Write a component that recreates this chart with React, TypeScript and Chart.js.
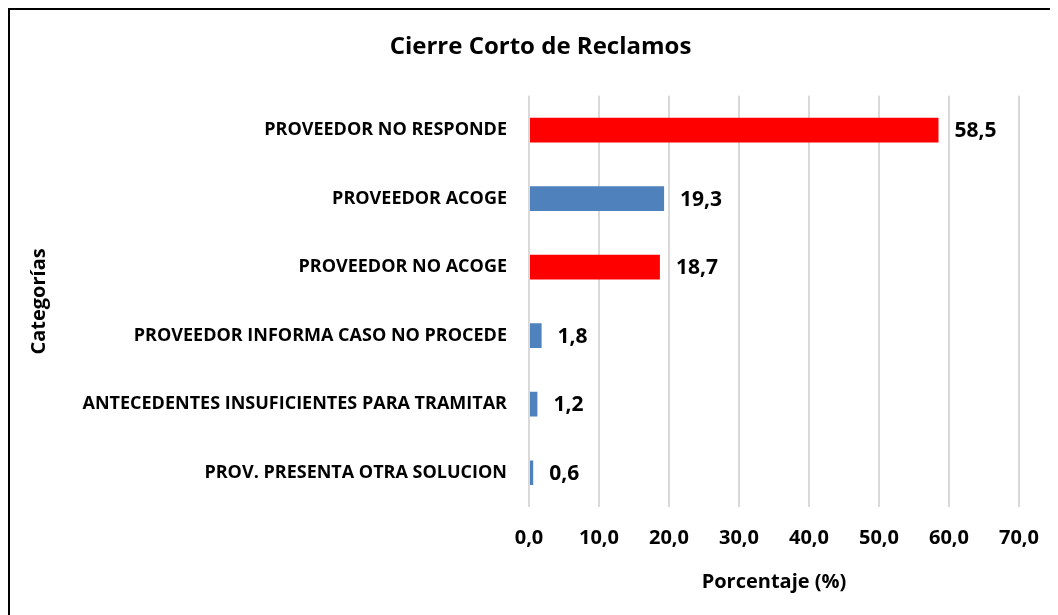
import React, { useEffect, useRef } from "react";
import { Chart, registerables } from "chart.js";

Chart.register(...registerables);

const categories = [
  "PROVEEDOR NO RESPONDE",
  "PROVEEDOR ACOGE",
  "PROVEEDOR NO ACOGE",
  "PROVEEDOR INFORMA CASO NO PROCEDE",
  "ANTECEDENTES INSUFICIENTES PARA TRAMITAR",
  "PROV. PRESENTA OTRA SOLUCION",
];
const values = [58.5, 19.3, 18.7, 1.8, 1.2, 0.6];
const barColors = ["#FF0000", "#4F81BD", "#FF0000", "#4F81BD", "#4F81BD", "#4F81BD"];
const xTicks = [0, 10, 20, 30, 40, 50, 60, 70];

const FONT = "'Open Sans', Lato, sans-serif";
const fmt = (v: number) => v.toFixed(1).replace(".", ",");

const dataLabels = {
  id: "dataLabels",
  afterDatasetsDraw(chart: any) {
    const ctx = chart.ctx;
    const meta = chart.getDatasetMeta(0);
    ctx.save();
    ctx.font = `bold 21px ${FONT}`;
    ctx.fillStyle = "#000";
    ctx.textAlign = "left";
    ctx.textBaseline = "middle";
    meta.data.forEach((bar: any, i: number) => {
      ctx.fillText(fmt(values[i]), bar.x + 16, bar.y + 1);
    });
    ctx.restore();
  },
};

export default function App() {
  const ref = useRef<HTMLCanvasElement>(null);
  useEffect(() => {
    if (!ref.current) return;
    const chart = new Chart(ref.current, {
      type: "bar",
      data: {
        labels: categories,
        datasets: [
          {
            data: values,
            backgroundColor: barColors,
            barPercentage: 0.36,
            categoryPercentage: 1,
          },
        ],
      },
      options: {
        indexAxis: "y",
        animation: false,
        responsive: true,
        maintainAspectRatio: false,
        layout: { padding: { left: 13, right: 0, top: 0, bottom: 0 } },
        plugins: {
          legend: { display: false },
          tooltip: { enabled: false },
          title: {
            display: true,
            text: "Cierre Corto de Reclamos",
            color: "#000",
            font: { family: FONT, size: 24, weight: "bold" },
            padding: { top: 23, bottom: 34 },
          },
        },
        scales: {
          x: {
            min: 0,
            max: 70,
            afterFit: (s: any) => {
              s.height = 108;
            },
            afterBuildTicks: (s: any) => {
              s.ticks = xTicks.map((v) => ({ value: v }));
            },
            ticks: {
              color: "#000",
              font: { family: FONT, size: 20, weight: "bold" },
              padding: 19,
              callback: (v: any) => fmt(Number(v)),
            },
            grid: { color: "#D9D9D9", lineWidth: 2, drawTicks: false },
            border: { display: false },
            title: {
              display: true,
              text: "Porcentaje (%)",
              color: "#000",
              font: { family: FONT, size: 20, weight: "bold" },
              padding: { top: 4, bottom: 21 },
            },
          },
          y: {
            afterFit: (s: any) => {
              s.width = 506;
            },
            ticks: {
              color: "#000",
              font: { family: FONT, size: 18, weight: "bold" },
              padding: 22,
            },
            grid: { display: false, drawTicks: false },
            border: { display: false },
            title: {
              display: true,
              text: "Categorías",
              color: "#000",
              font: { family: FONT, size: 20, weight: "bold" },
              padding: { top: 4, bottom: 4 },
            },
          },
        },
      },
      plugins: [dataLabels],
    });
    return () => chart.destroy();
  }, []);

  return (
    <div
      style={{
        borderLeft: "2px solid #000",
        borderTop: "2px solid #000",
        height: 607,
        boxSizing: "border-box",
        overflow: "hidden",
      }}
    >
      <div style={{ position: "relative", width: 1048, height: 605 }}>
        <canvas ref={ref} />
      </div>
    </div>
  );
}
